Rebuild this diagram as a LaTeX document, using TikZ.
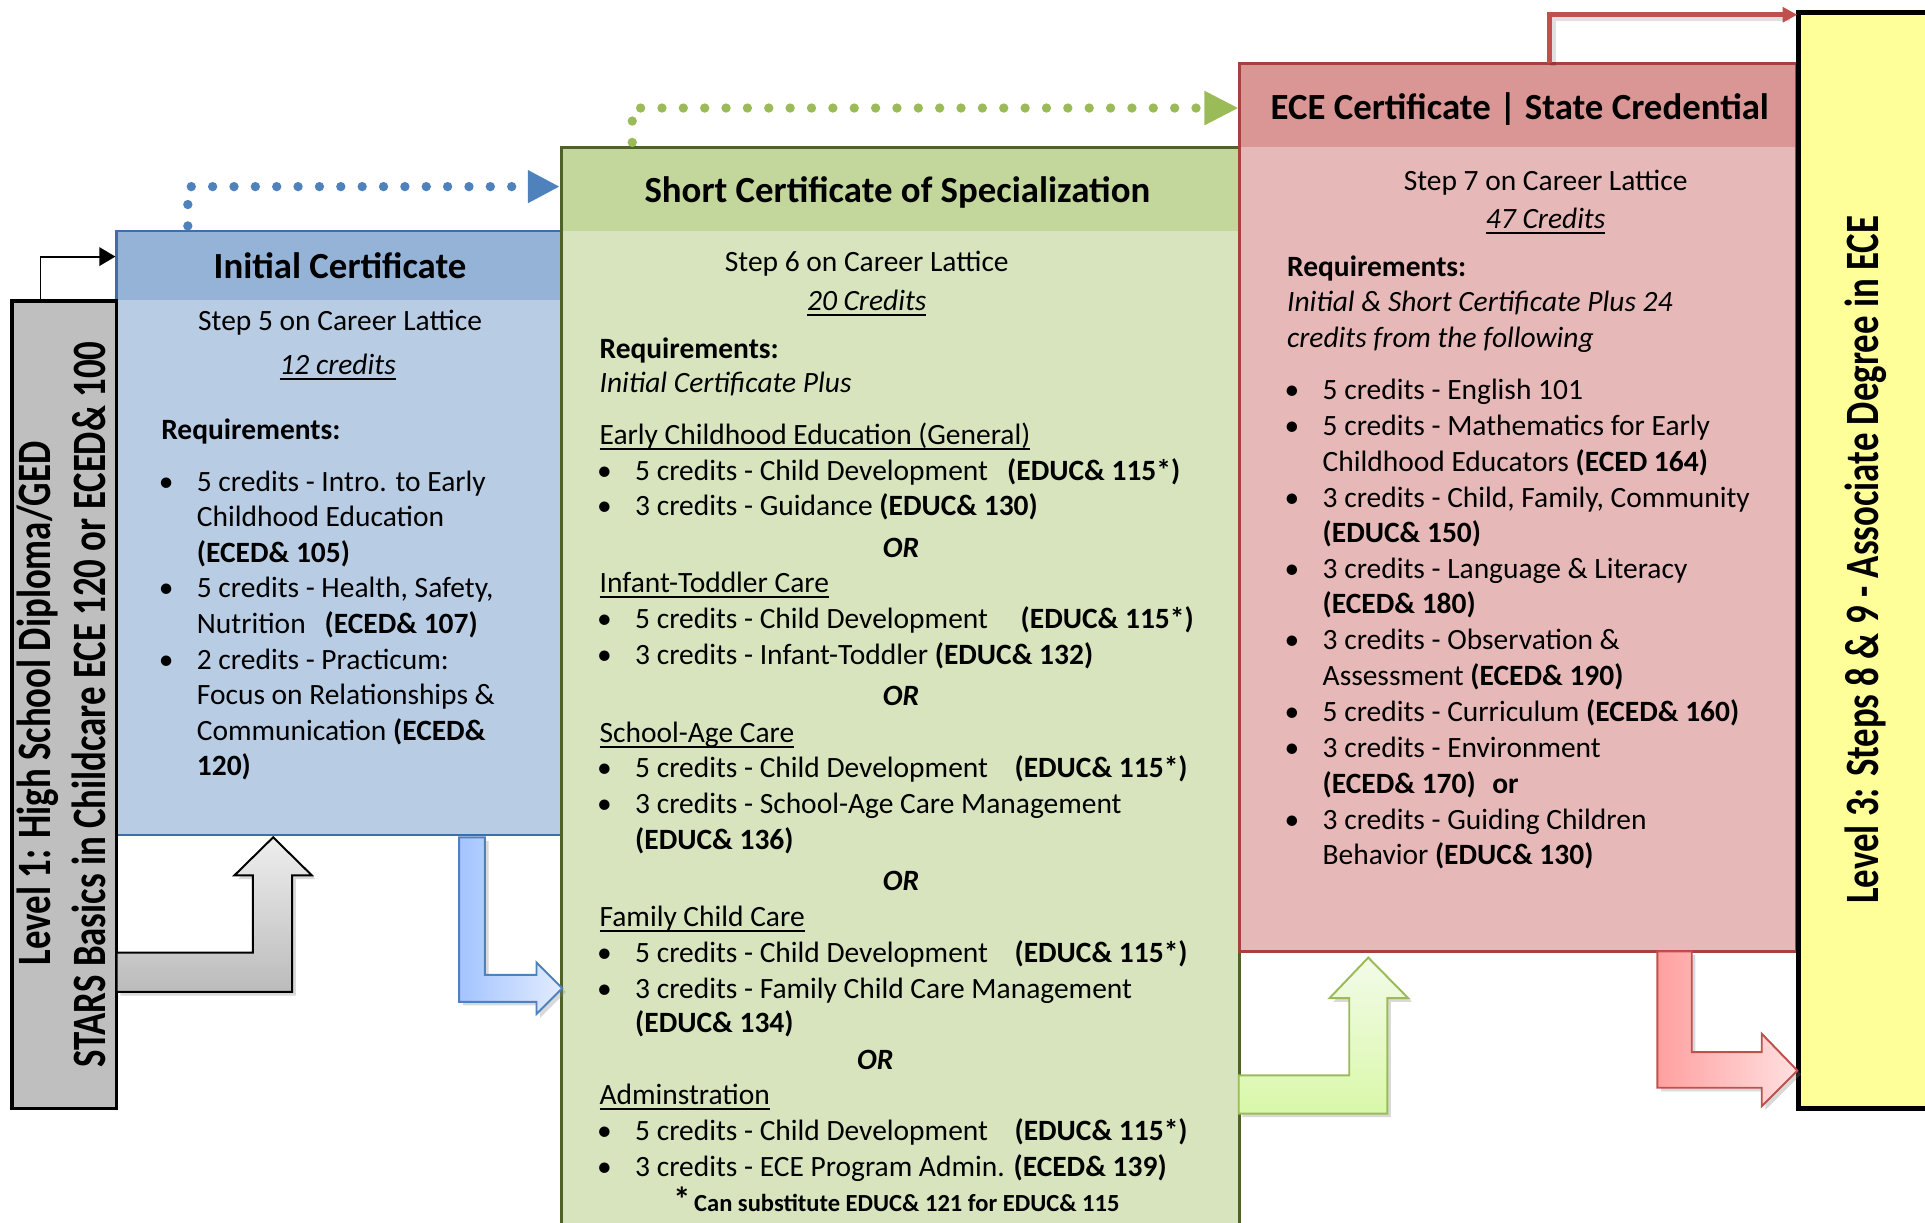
\documentclass[tikz,border=0pt]{standalone}
\usepackage{fontspec}
\setmainfont{Carlito}
\usetikzlibrary{arrows.meta,shadows}
\definecolor{bluehead}{HTML}{95B3D7}
\definecolor{bluebody}{HTML}{B8CCE4}
\definecolor{blueline}{HTML}{3F6DA8}
\definecolor{bluedot}{HTML}{4F81BD}
\definecolor{greenhead}{HTML}{C3D69B}
\definecolor{greenbody}{HTML}{D7E4BD}
\definecolor{greenline}{HTML}{4F6228}
\definecolor{greendot}{HTML}{9BBB59}
\definecolor{redhead}{HTML}{D99694}
\definecolor{redbody}{HTML}{E6B9B8}
\definecolor{redline}{HTML}{A8403D}
\definecolor{redconn}{HTML}{C0504D}
\definecolor{yellowbox}{HTML}{FFFF99}
\definecolor{graybox}{HTML}{BFBFBF}
\definecolor{grayA}{HTML}{EEEEEE}
\definecolor{grayB}{HTML}{BBBBBB}
\definecolor{blueA}{HTML}{A3C4FF}
\definecolor{blueB}{HTML}{E3ECFF}
\definecolor{greenA}{HTML}{F3FBE9}
\definecolor{greenB}{HTML}{D9F8A9}
\definecolor{redA}{HTML}{FFA0A0}
\definecolor{redB}{HTML}{FFE0E0}
\newcommand{\bul}{\llap{\makebox[25pt][c]{\textbullet}}}
\newcommand{\cdev}[1]{\makebox[#1][l]{5 credits - Child Development}}
\newcommand{\uln}[1]{\leavevmode\setbox0\hbox{#1}\rlap{\rule[-2.2pt]{\wd0}{0.8pt}}\box0}
\begin{document}
\begin{tikzpicture}[x=0.5pt,y=-0.5pt,
  box/.style={rectangle, inner sep=0pt, outer sep=0pt, anchor=north west},
  body/.style={font=\fontsize{12}{14.5}\selectfont, inner sep=0pt, anchor=base west},
  ctr/.style={font=\fontsize{12}{14.5}\selectfont, inner sep=0pt, anchor=base},
  ttl/.style={font=\fontsize{15}{18}\selectfont\bfseries, inner sep=0pt, anchor=base},
  orl/.style={font=\fontsize{12}{14.5}\selectfont\bfseries\itshape, inner sep=0pt, anchor=base},
  vert/.style={font=\fontsize{15}{18}\selectfont\bfseries, inner sep=0pt, anchor=center, rotate=90},
  dots/.style={line width=3.8pt, dash pattern=on 0pt off 8.7pt, line cap=round},
  barrow/.style={line width=0.8pt, drop shadow={opacity=0.3, shadow xshift=1.5pt, shadow yshift=-1.5pt}}]
\useasboundingbox (0,0) rectangle (1568,996);

% ---------- Initial Certificate (blue) ----------
\node[box, fill=bluebody, minimum width=181pt, minimum height=246pt] (blue) at (95,188) {};
\fill[bluehead] (95,188) rectangle (457,244);
\draw[blueline, line width=1pt] (blue.north west) rectangle (blue.south east);

% ---------- Level 1 (gray) ----------
\node[box, fill=graybox, draw=black, line width=1.5pt, minimum width=42.5pt, minimum height=329pt] (gray) at (10,245) {};
\node[vert] (l1a) at (31,573) {\scalebox{1}[1.3]{Level 1: High School Diploma/GED}};
\node[vert] (l1b) at (72,574) {\scalebox{1}[1.3]{STARS Basics in Childcare ECE 120 or ECED\& 100}};

% ---------- Short Certificate (green) ----------
\node[box, fill=greenbody, minimum width=276.5pt, minimum height=450pt] (green) at (457,120) {};
\fill[greenhead] (457,120) rectangle (1010,188);
\draw[greenline, line width=1.2pt] (green.north west) rectangle (green.south east);

% ---------- ECE Certificate (red) ----------
\node[box, fill=redbody, minimum width=226.5pt, minimum height=361.5pt] (red) at (1010,52) {};
\fill[redhead] (1010,52) rectangle (1463,120);
\draw[redline, line width=1.2pt] (red.north west) rectangle (red.south east);

% ---------- Level 3 (yellow) ----------
\node[box, fill=yellowbox, draw=black, line width=2pt, minimum width=60pt, minimum height=446.5pt] (yellow) at (1465,10) {};
\node[vert] (l3) at (1520,456) {\scalebox{1}[1.3]{Level 3: Steps 8 \& 9 - Associate Degree in ECE}};

% ---------- connectors ----------
\coordinate (k1) at (33,245);
\coordinate (k2) at (94,209);
\draw[black, line width=0.8pt, -{Triangle[length=6.5pt,width=7.5pt]}] (k1) |- (k2);

\coordinate (b1) at (153,184);
\coordinate (b2) at (456,152);
\draw[bluedot, dots, -{Triangle[length=13pt,width=12.5pt]}] (b1) |- (b2);

\coordinate (g1) at (515,116);
\coordinate (g2) at (1009,88);
\draw[greendot, dots, -{Triangle[length=14pt,width=13pt]}] (g1) |- (g2);

\coordinate (r1) at (1262,51);
\coordinate (r2) at (1464,12);
\draw[black, opacity=0.12, line width=2.5pt] ([shift={(1.5pt,-1.5pt)}]r1) |- ([shift={(-3pt,-1.5pt)}]r2);
\draw[redconn, line width=2pt, -{Triangle[length=6pt,width=6pt]}] (r1) |- (r2);

% ---------- block arrows ----------
\path[barrow, draw=black, top color=grayA, bottom color=grayB]
  (95,776) -- (206,776) -- (206,713) -- (191,713) -- (222.5,682) -- (254,713) -- (238,713) -- (238,808) -- (95,808) -- cycle;
\path[barrow, draw=bluedot, left color=blueA, right color=blueB]
  (374,682) -- (395,682) -- (395,794) -- (437,794) -- (437,784) -- (458,805) -- (437,826) -- (437,816) -- (374,816) -- cycle;
\path[barrow, draw=greendot, top color=greenA, bottom color=greenB]
  (1009,876) -- (1099,876) -- (1099,813) -- (1083,813) -- (1114.5,780) -- (1147,813) -- (1130,813) -- (1130,907) -- (1009,907) -- cycle;
\path[barrow, draw=redconn, left color=redA, right color=redB]
  (1350,775) -- (1378,775) -- (1378,857) -- (1435,857) -- (1435,842) -- (1464,872) -- (1435,901) -- (1435,886) -- (1350,886) -- cycle;

% ---------- blue text ----------
\node[ttl] (bt) at (277,227) {Initial Certificate};
\node[ctr] (bs) at (277,269) {Step 5 on Career Lattice};
\node[ctr] (bc) at (275,305) {\uln{\textit{12 credits}}};
\node[body] (br) at (131,358) {\textbf{Requirements:}};
\node[body] (bl1) at (160,400) {\bul 5 credits - Intro. to Early};
\node[body] (bl2) at (160,429) {Childhood Education};
\node[body] (bl3) at (160,458) {\textbf{(ECED\& 105)}};
\node[body] (bl4) at (160,487) {\bul 5 credits - Health, Safety,};
\node[body] (bl5) at (160,516) {Nutrition\hspace{5pt} \textbf{(ECED\& 107)}};
\node[body] (bl6) at (160,545) {\bul 2 credits - Practicum:};
\node[body] (bl7) at (160,574) {Focus on Relationships \&};
\node[body] (bl8) at (160,603) {Communication \textbf{(ECED\&}};
\node[body] (bl9) at (160,632) {\textbf{120)}};

% ---------- green text ----------
\node[ttl] (gt) at (731,165) {Short Certificate of Specialization};
\node[ctr] (gs) at (706,221) {Step 6 on Career Lattice};
\node[ctr] (gc) at (706,253) {\uln{\textit{20 Credits}}};
\node[body] (gr) at (488,292) {\textbf{Requirements:}};
\node[body] (gp) at (488,320) {\textit{Initial Certificate Plus}};
\node[body] (ga) at (488,362) {\uln{Early Childhood Education (General)}};
\node[body] (ga1) at (517,391) {\bul\cdev{151.5pt}\textbf{(EDUC\& 115*)}};
\node[body] (ga2) at (517,420) {\bul 3 credits - Guidance \textbf{(EDUC\& 130)}};
\node[orl] (go1) at (734,454) {OR};
\node[body] (gb) at (488,483) {\uln{Infant-Toddler Care}};
\node[body] (gb1) at (517,512) {\bul\cdev{157pt}\textbf{(EDUC\& 115*)}};
\node[body] (gb2) at (517,541) {\bul 3 credits - Infant-Toddler \textbf{(EDUC\& 132)}};
\node[orl] (go2) at (734,575) {OR};
\node[body] (gc0) at (488,605) {\uln{School-Age Care}};
\node[body] (gc1) at (517,633) {\bul\cdev{154.5pt}\textbf{(EDUC\& 115*)}};
\node[body] (gc2) at (517,663) {\bul 3 credits - School-Age Care Management};
\node[body] (gc3) at (517,692) {\textbf{(EDUC\& 136)}};
\node[orl] (go3) at (734,725) {OR};
\node[body] (gd) at (488,755) {\uln{Family Child Care}};
\node[body] (gd1) at (517,784) {\bul\cdev{154.5pt}\textbf{(EDUC\& 115*)}};
\node[body] (gd2) at (517,813) {\bul 3 credits - Family Child Care Management};
\node[body] (gd3) at (517,841) {\textbf{(EDUC\& 134)}};
\node[orl] (go4) at (713,871) {OR};
\node[body] (ge) at (488,900) {\uln{Adminstration}};
\node[body] (ge1) at (517,929) {\bul\cdev{154.5pt}\textbf{(EDUC\& 115*)}};
\node[body] (ge2) at (517,958) {\bul 3 credits - ECE Program Admin. \textbf{(ECED\& 139)}};
\node[body] (gfs) at (548,987) {\fontsize{14}{14}\selectfont\bfseries *};
\node[body] (gf) at (565,987) {\fontsize{10}{12}\selectfont\bfseries Can substitute EDUC\& 121 for EDUC\& 115};

% ---------- red text ----------
\node[ttl] (rt) at (1238,97) {ECE Certificate | State Credential};
\node[ctr] (rs) at (1259,155) {Step 7 on Career Lattice};
\node[ctr] (rc) at (1259,186) {\uln{\textit{47 Credits}}};
\node[body] (rr) at (1048,225) {\textbf{Requirements:}};
\node[body] (rp1) at (1048,254) {\textit{Initial \& Short Certificate Plus 24}};
\node[body] (rp2) at (1048,283) {\textit{credits from the following}};
\node[body] (rl1) at (1077,325) {\bul 5 credits - English 101};
\node[body] (rl2) at (1077,355) {\bul 5 credits - Mathematics for Early};
\node[body] (rl3) at (1077,384) {Childhood Educators \textbf{(ECED 164)}};
\node[body] (rl4) at (1077,413) {\bul 3 credits - Child, Family, Community};
\node[body] (rl5) at (1077,442) {\textbf{(EDUC\& 150)}};
\node[body] (rl6) at (1077,471) {\bul 3 credits - Language \& Literacy};
\node[body] (rl7) at (1077,500) {\textbf{(ECED\& 180)}};
\node[body] (rl8) at (1077,529) {\bul 3 credits - Observation \&};
\node[body] (rl9) at (1077,558) {Assessment \textbf{(ECED\& 190)}};
\node[body] (rl10) at (1077,588) {\bul 5 credits - Curriculum \textbf{(ECED\& 160)}};
\node[body] (rl11) at (1077,617) {\bul 3 credits - Environment};
\node[body] (rl12) at (1077,646) {\textbf{(ECED\& 170)\hspace{4pt} or}};
\node[body] (rl13) at (1077,676) {\bul 3 credits - Guiding Children};
\node[body] (rl14) at (1077,704) {Behavior \textbf{(EDUC\& 130)}};
\end{tikzpicture}
\end{document}
